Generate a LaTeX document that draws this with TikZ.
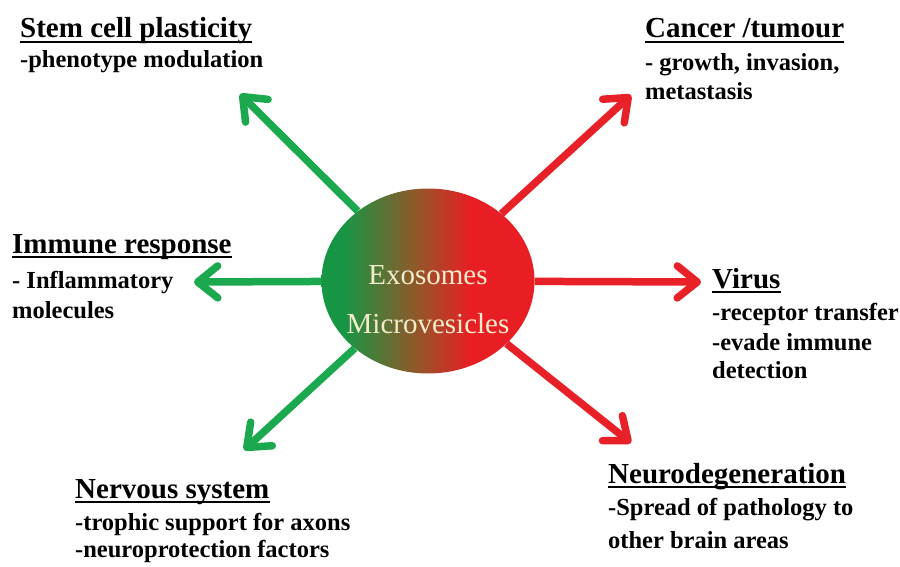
\documentclass[tikz,border=0pt]{standalone}
\usepackage{fontspec}
\setmainfont{Liberation Serif}
\usetikzlibrary{arrows.meta,shapes.geometric}
\definecolor{exogreen}{RGB}{22,150,68}
\definecolor{exobrown}{RGB}{150,85,40}
\definecolor{exored}{RGB}{232,30,36}
\definecolor{arrgreen}{RGB}{28,168,78}
\definecolor{arrred}{RGB}{232,32,40}
\definecolor{cream}{RGB}{242,236,205}
\pgfdeclarehorizontalshading{exoshade}{100bp}{color(0bp)=(exogreen); color(30bp)=(exogreen); color(48bp)=(exobrown); color(60bp)=(exored); color(100bp)=(exored)}
\tikzset{
  head/.style={anchor=base west, inner sep=0pt, font=\bfseries\fontsize{29}{34}\selectfont},
  body/.style={anchor=base west, inner sep=0pt, font=\bfseries\fontsize{24.5}{29}\selectfont},
  uline/.style={line width=2pt},
  grn/.style={draw=arrgreen, line width=7.5pt, -{Straight Barb[length=20pt,width=32pt,round]}},
  rd/.style={draw=arrred, line width=7.5pt, -{Straight Barb[length=20pt,width=32pt,round]}},
}
\begin{document}
\begin{tikzpicture}[x=1pt,y=-1pt]
\useasboundingbox (0,0) rectangle (900,567);
% centre
\node[ellipse, minimum width=213pt, minimum height=185pt, shading=exoshade] (exo) at (428,281) {};
\node[inner sep=0pt, text=cream, font=\fontsize{29}{34}\selectfont, anchor=base] (exo1) at (428,284) {Exosomes};
\node[inner sep=0pt, text=cream, font=\fontsize{29}{34}\selectfont, anchor=base] (exo2) at (428,333) {Microvesicles};
% arrow ends
\coordinate (ul) at (240,94);
\coordinate (l) at (194,282);
\coordinate (dl) at (244,450);
\coordinate (ur) at (631,95);
\coordinate (r) at (701,282);
\coordinate (dr) at (631,443);
\draw[grn] (exo) -- (ul);
\draw[grn] (exo) -- (l);
\draw[grn] (exo) -- (dl);
\draw[rd] (exo) -- (ur);
\draw[rd] (exo) -- (r);
\draw[rd] (exo) -- (dr);
% labels
\node[head] (stem) at (20,38) {Stem cell plasticity};
\node[body] (stem1) at (20,68) {-phenotype modulation};
\node[head] (imm) at (12,253) {Immune response};
\node[body] (imm1) at (12,288) {- Inflammatory};
\node[body] (imm2) at (12,318) {molecules};
\node[head] (nerv) at (75,498) {Nervous system};
\node[body] (nerv1) at (75,530) {-trophic support for axons};
\node[body] (nerv2) at (75,557) {-neuroprotection factors};
\node[head] (canc) at (645,38) {Cancer /tumour};
\node[body] (canc1) at (645,71) {- growth, invasion,};
\node[body] (canc2) at (645,100) {metastasis};
\node[head] (vir) at (712,288) {Virus};
\node[body] (vir1) at (712,320) {-receptor transfer};
\node[body] (vir2) at (712,350) {-evade immune};
\node[body] (vir3) at (712,378) {detection};
\node[head] (neuro) at (608,483) {Neurodegeneration};
\node[body] (neuro1) at (608,515) {-Spread of pathology to};
\node[body] (neuro2) at (608,548) {other brain areas};
% underlines
\foreach \t in {stem,imm,nerv,canc,vir,neuro}
  \draw[uline] ([yshift=-4pt]\t.base west) -- ([yshift=-4pt]\t.base east);
\end{tikzpicture}
\end{document}
